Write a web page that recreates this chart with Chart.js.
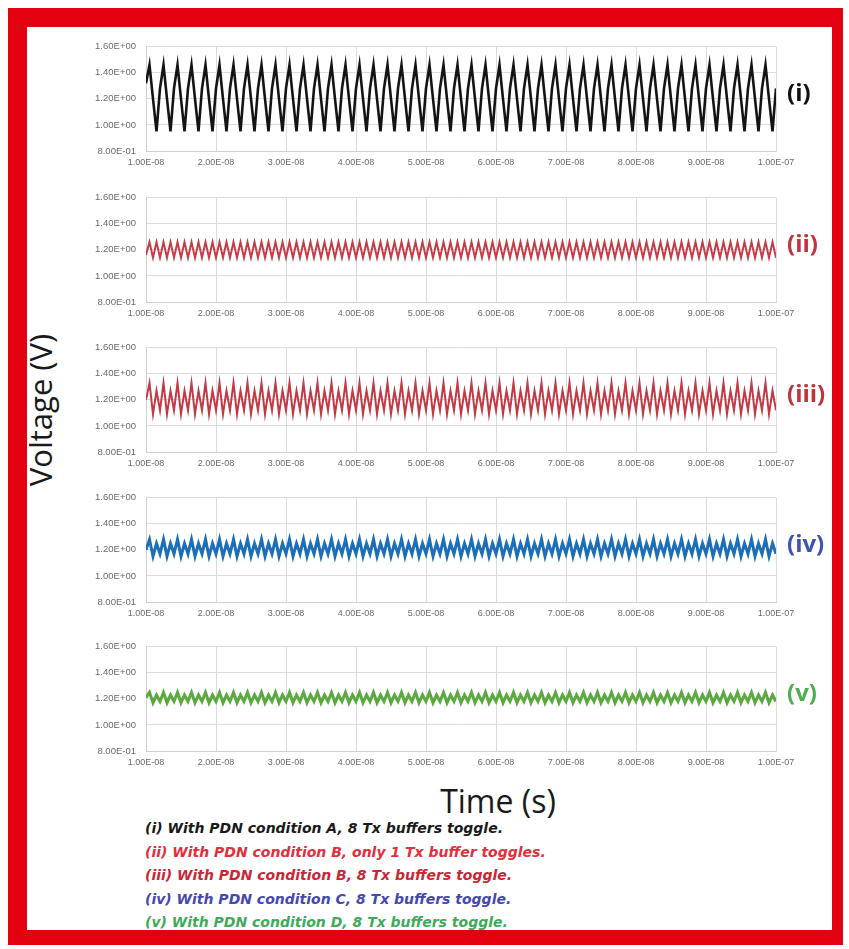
<!DOCTYPE html>
<html>
<head>
<meta charset="utf-8">
<script src="https://cdn.jsdelivr.net/npm/chart.js@4.4.1/dist/chart.umd.min.js"></script>
<style>
  html, body { margin: 0; padding: 0; background: #ffffff; }
  #page { position: relative; width: 849px; height: 949px; overflow: hidden; background: #ffffff; }
  #frame {
    position: absolute; left: 8px; top: 8px; width: 805px; height: 903px;
    border-style: solid; border-color: #e3000f;
    border-width: 19px 11px 15px 19px;
  }
  canvas.panel { position: absolute; }
  .tag { position: absolute; font-family: "Open Sans", sans-serif; font-weight: 700; font-size: 24px; line-height: 24px; }
  #ylab {
    position: absolute; left: 40px; top: 410px; transform: translate(-50%, -50%) rotate(-90deg);
    font-family: "Open Sans", sans-serif; font-size: 31px; color: #1a1a1a; white-space: nowrap;
  }
  #xlab {
    position: absolute; left: 498px; top: 800px; transform: translate(-50%, -50%);
    font-family: "Open Sans", sans-serif; font-size: 32px; color: #1a1a1a; white-space: nowrap;
  }
  #notes { position: absolute; left: 145px; top: 817px; font-family: "DejaVu Sans", sans-serif; font-weight: 700; font-style: italic; font-size: 14px; line-height: 23.6px; white-space: nowrap; }
</style>
</head>
<body>
<div id="page">
  <div id="frame"></div>
  <div id="ylab">Voltage (V)</div>
  <div id="xlab">Time (s)</div>
  <div id="notes"></div>
</div>
<script>
// Waveform samples, volts, taken every 0.5 ns starting at 10 ns
const sampleStartNs = 10;
const sampleStepNs = 0.5;

const caseLabels = ['(i)', '(ii)', '(iii)', '(iv)', '(v)'];
const caseNotes = [
  '(i) With PDN condition A, 8 Tx buffers toggle.',
  '(ii) With PDN condition B, only 1 Tx buffer toggles.',
  '(iii) With PDN condition B, 8 Tx buffers toggle.',
  '(iv) With PDN condition C, 8 Tx buffers toggle.',
  '(v) With PDN condition D, 8 Tx buffers toggle.'
];
const timeTicks = ['1.00E-08','2.00E-08','3.00E-08','4.00E-08','5.00E-08','6.00E-08','7.00E-08','8.00E-08','9.00E-08','1.00E-07'];
const voltTicks = ['8.00E-01','1.00E+00','1.20E+00','1.40E+00','1.60E+00'];

const voltA = [1.32,
  1.46,1.20,0.95,1.28, 1.46,1.20,0.95,1.28, 1.46,1.20,0.95,1.28, 1.46,1.20,0.95,1.28, 1.46,1.20,0.95,1.28,
  1.46,1.20,0.95,1.28, 1.46,1.20,0.95,1.28, 1.46,1.20,0.95,1.28, 1.46,1.20,0.95,1.28, 1.46,1.20,0.95,1.28,
  1.46,1.20,0.95,1.28, 1.46,1.20,0.95,1.28, 1.46,1.20,0.95,1.28, 1.46,1.20,0.95,1.28, 1.46,1.20,0.95,1.28,
  1.46,1.20,0.95,1.28, 1.46,1.20,0.95,1.28, 1.46,1.20,0.95,1.28, 1.46,1.20,0.95,1.28, 1.46,1.20,0.95,1.28,
  1.46,1.20,0.95,1.28, 1.46,1.20,0.95,1.28, 1.46,1.20,0.95,1.28, 1.46,1.20,0.95,1.28, 1.46,1.20,0.95,1.28,
  1.46,1.20,0.95,1.28, 1.46,1.20,0.95,1.28, 1.46,1.20,0.95,1.28, 1.46,1.20,0.95,1.28, 1.46,1.20,0.95,1.28,
  1.46,1.20,0.95,1.28, 1.46,1.20,0.95,1.28, 1.46,1.20,0.95,1.28, 1.46,1.20,0.95,1.28, 1.46,1.20,0.95,1.28,
  1.46,1.20,0.95,1.28, 1.46,1.20,0.95,1.28, 1.46,1.20,0.95,1.28, 1.46,1.20,0.95,1.28, 1.46,1.20,0.95,1.28,
  1.46,1.20,0.95,1.28, 1.46,1.20,0.95,1.28, 1.46,1.20,0.95,1.28, 1.46,1.20,0.95,1.28, 1.46,1.20,0.95,1.28];

const voltB1 = [1.16,
  1.26,1.14,1.26,1.14, 1.26,1.14,1.26,1.14, 1.26,1.14,1.26,1.14, 1.26,1.14,1.26,1.14, 1.26,1.14,1.26,1.14,
  1.26,1.14,1.26,1.14, 1.26,1.14,1.26,1.14, 1.26,1.14,1.26,1.14, 1.26,1.14,1.26,1.14, 1.26,1.14,1.26,1.14,
  1.26,1.14,1.26,1.14, 1.26,1.14,1.26,1.14, 1.26,1.14,1.26,1.14, 1.26,1.14,1.26,1.14, 1.26,1.14,1.26,1.14,
  1.26,1.14,1.26,1.14, 1.26,1.14,1.26,1.14, 1.26,1.14,1.26,1.14, 1.26,1.14,1.26,1.14, 1.26,1.14,1.26,1.14,
  1.26,1.14,1.26,1.14, 1.26,1.14,1.26,1.14, 1.26,1.14,1.26,1.14, 1.26,1.14,1.26,1.14, 1.26,1.14,1.26,1.14,
  1.26,1.14,1.26,1.14, 1.26,1.14,1.26,1.14, 1.26,1.14,1.26,1.14, 1.26,1.14,1.26,1.14, 1.26,1.14,1.26,1.14,
  1.26,1.14,1.26,1.14, 1.26,1.14,1.26,1.14, 1.26,1.14,1.26,1.14, 1.26,1.14,1.26,1.14, 1.26,1.14,1.26,1.14,
  1.26,1.14,1.26,1.14, 1.26,1.14,1.26,1.14, 1.26,1.14,1.26,1.14, 1.26,1.14,1.26,1.14, 1.26,1.14,1.26,1.14,
  1.26,1.14,1.26,1.14, 1.26,1.14,1.26,1.14, 1.26,1.14,1.26,1.14, 1.26,1.14,1.26,1.14, 1.26,1.14,1.26,1.14];

const voltB8 = [1.20,
  1.33,1.09,1.27,1.12, 1.33,1.09,1.27,1.12, 1.33,1.09,1.27,1.12, 1.33,1.09,1.27,1.12, 1.33,1.09,1.27,1.12,
  1.33,1.09,1.27,1.12, 1.33,1.09,1.27,1.12, 1.33,1.09,1.27,1.12, 1.33,1.09,1.27,1.12, 1.33,1.09,1.27,1.12,
  1.33,1.09,1.27,1.12, 1.33,1.09,1.27,1.12, 1.33,1.09,1.27,1.12, 1.33,1.09,1.27,1.12, 1.33,1.09,1.27,1.12,
  1.33,1.09,1.27,1.12, 1.33,1.09,1.27,1.12, 1.33,1.09,1.27,1.12, 1.33,1.09,1.27,1.12, 1.33,1.09,1.27,1.12,
  1.33,1.09,1.27,1.12, 1.33,1.09,1.27,1.12, 1.33,1.09,1.27,1.12, 1.33,1.09,1.27,1.12, 1.33,1.09,1.27,1.12,
  1.33,1.09,1.27,1.12, 1.33,1.09,1.27,1.12, 1.33,1.09,1.27,1.12, 1.33,1.09,1.27,1.12, 1.33,1.09,1.27,1.12,
  1.33,1.09,1.27,1.12, 1.33,1.09,1.27,1.12, 1.33,1.09,1.27,1.12, 1.33,1.09,1.27,1.12, 1.33,1.09,1.27,1.12,
  1.33,1.09,1.27,1.12, 1.33,1.09,1.27,1.12, 1.33,1.09,1.27,1.12, 1.33,1.09,1.27,1.12, 1.33,1.09,1.27,1.12,
  1.33,1.09,1.27,1.12, 1.33,1.09,1.27,1.12, 1.33,1.09,1.27,1.12, 1.33,1.09,1.27,1.12, 1.33,1.09,1.27,1.12];

const voltC = [1.20,
  1.28,1.15,1.25,1.17, 1.28,1.15,1.25,1.17, 1.28,1.15,1.25,1.17, 1.28,1.15,1.25,1.17, 1.28,1.15,1.25,1.17,
  1.28,1.15,1.25,1.17, 1.28,1.15,1.25,1.17, 1.28,1.15,1.25,1.17, 1.28,1.15,1.25,1.17, 1.28,1.15,1.25,1.17,
  1.28,1.15,1.25,1.17, 1.28,1.15,1.25,1.17, 1.28,1.15,1.25,1.17, 1.28,1.15,1.25,1.17, 1.28,1.15,1.25,1.17,
  1.28,1.15,1.25,1.17, 1.28,1.15,1.25,1.17, 1.28,1.15,1.25,1.17, 1.28,1.15,1.25,1.17, 1.28,1.15,1.25,1.17,
  1.28,1.15,1.25,1.17, 1.28,1.15,1.25,1.17, 1.28,1.15,1.25,1.17, 1.28,1.15,1.25,1.17, 1.28,1.15,1.25,1.17,
  1.28,1.15,1.25,1.17, 1.28,1.15,1.25,1.17, 1.28,1.15,1.25,1.17, 1.28,1.15,1.25,1.17, 1.28,1.15,1.25,1.17,
  1.28,1.15,1.25,1.17, 1.28,1.15,1.25,1.17, 1.28,1.15,1.25,1.17, 1.28,1.15,1.25,1.17, 1.28,1.15,1.25,1.17,
  1.28,1.15,1.25,1.17, 1.28,1.15,1.25,1.17, 1.28,1.15,1.25,1.17, 1.28,1.15,1.25,1.17, 1.28,1.15,1.25,1.17,
  1.28,1.15,1.25,1.17, 1.28,1.15,1.25,1.17, 1.28,1.15,1.25,1.17, 1.28,1.15,1.25,1.17, 1.28,1.15,1.25,1.17];

const voltD = [1.21,
  1.25,1.17,1.23,1.18, 1.25,1.17,1.23,1.18, 1.25,1.17,1.23,1.18, 1.25,1.17,1.23,1.18, 1.25,1.17,1.23,1.18,
  1.25,1.17,1.23,1.18, 1.25,1.17,1.23,1.18, 1.25,1.17,1.23,1.18, 1.25,1.17,1.23,1.18, 1.25,1.17,1.23,1.18,
  1.25,1.17,1.23,1.18, 1.25,1.17,1.23,1.18, 1.25,1.17,1.23,1.18, 1.25,1.17,1.23,1.18, 1.25,1.17,1.23,1.18,
  1.25,1.17,1.23,1.18, 1.25,1.17,1.23,1.18, 1.25,1.17,1.23,1.18, 1.25,1.17,1.23,1.18, 1.25,1.17,1.23,1.18,
  1.25,1.17,1.23,1.18, 1.25,1.17,1.23,1.18, 1.25,1.17,1.23,1.18, 1.25,1.17,1.23,1.18, 1.25,1.17,1.23,1.18,
  1.25,1.17,1.23,1.18, 1.25,1.17,1.23,1.18, 1.25,1.17,1.23,1.18, 1.25,1.17,1.23,1.18, 1.25,1.17,1.23,1.18,
  1.25,1.17,1.23,1.18, 1.25,1.17,1.23,1.18, 1.25,1.17,1.23,1.18, 1.25,1.17,1.23,1.18, 1.25,1.17,1.23,1.18,
  1.25,1.17,1.23,1.18, 1.25,1.17,1.23,1.18, 1.25,1.17,1.23,1.18, 1.25,1.17,1.23,1.18, 1.25,1.17,1.23,1.18,
  1.25,1.17,1.23,1.18, 1.25,1.17,1.23,1.18, 1.25,1.17,1.23,1.18, 1.25,1.17,1.23,1.18, 1.25,1.17,1.23,1.18];

const seriesList = [voltA, voltB1, voltB8, voltC, voltD];
const lineColors = ['#141414', '#c83c48', '#c23a46', '#1a6fb8', '#5aa83e'];
const lineWidths = [2.6, 2, 2, 3, 3];
const tagColors = ['#111111', '#c0343c', '#c0343c', '#3d55b0', '#4fae4f'];
const noteColors = ['#1a1a1a', '#e0303c', '#c62836', '#4548b0', '#3faa5a'];

// Panel placement (plot-area top edge of each panel)
const panelTops = [39, 190, 340, 490, 639];
const PAD_TOP = 8, PLOT_H = 112, XAXIS_H = 22, YAXIS_W = 66;
const CANVAS_LEFT = 80, CANVAS_W = 730, PAD_RIGHT = 34;

const page = document.getElementById('page');

seriesList.forEach((vals, k) => {
  const cv = document.createElement('canvas');
  cv.className = 'panel';
  cv.width = CANVAS_W;
  cv.height = PAD_TOP + PLOT_H + XAXIS_H;
  cv.style.left = CANVAS_LEFT + 'px';
  cv.style.top = (panelTops[k] - PAD_TOP) + 'px';
  cv.style.width = CANVAS_W + 'px';
  cv.style.height = cv.height + 'px';
  page.appendChild(cv);

  const pts = vals.map((v, i) => ({ x: sampleStartNs + i * sampleStepNs, y: v }));

  new Chart(cv.getContext('2d'), {
    type: 'line',
    data: { datasets: [{
      data: pts,
      borderColor: lineColors[k],
      borderWidth: lineWidths[k],
      pointRadius: 0,
      tension: 0,
      fill: false
    }]},
    options: {
      responsive: false,
      animation: false,
      devicePixelRatio: 1,
      layout: { padding: { top: PAD_TOP, right: PAD_RIGHT, left: 0, bottom: 0 } },
      plugins: { legend: { display: false }, tooltip: { enabled: false } },
      scales: {
        x: {
          type: 'linear', min: 10, max: 100,
          afterFit: s => { s.height = XAXIS_H; },
          ticks: {
            stepSize: 10, maxRotation: 0, autoSkip: false, padding: 6,
            color: '#6a6a6a', font: { family: 'Liberation Sans', size: 9 },
            callback: (v) => timeTicks[Math.round(v / 10) - 1]
          },
          grid: { color: '#dcdcdc', lineWidth: 1, drawTicks: false },
          border: { display: true, color: '#d0d0d0' }
        },
        y: {
          min: 0.8, max: 1.6,
          afterFit: s => { s.width = YAXIS_W; },
          ticks: {
            stepSize: 0.2, padding: 10,
            color: '#6a6a6a', font: { family: 'Liberation Sans', size: 9.5 },
            callback: (v) => voltTicks[Math.round((v - 0.8) / 0.2)]
          },
          grid: { color: '#dcdcdc', lineWidth: 1, drawTicks: false },
          border: { display: true, color: '#d0d0d0' }
        }
      }
    }
  });

  const tag = document.createElement('div');
  tag.className = 'tag';
  tag.textContent = caseLabels[k];
  tag.style.color = tagColors[k];
  tag.style.left = '787px';
  tag.style.top = (panelTops[k] + PLOT_H / 2 - 15) + 'px';
  page.appendChild(tag);
});

const notes = document.getElementById('notes');
caseNotes.forEach((t, k) => {
  const d = document.createElement('div');
  d.textContent = t;
  d.style.color = noteColors[k];
  notes.appendChild(d);
});
</script>
</body>
</html>
